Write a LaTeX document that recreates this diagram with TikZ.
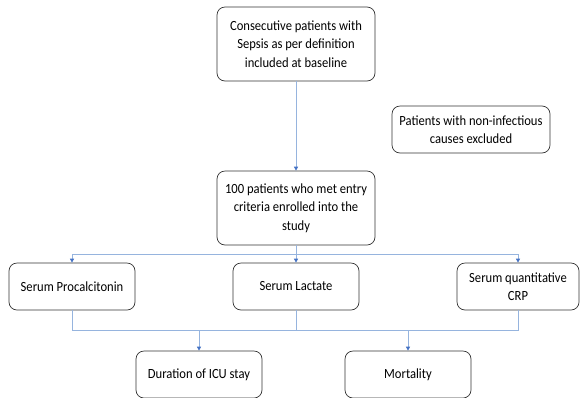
\documentclass[tikz,border=0pt]{standalone}
\usepackage{fontspec}
\setmainfont{Carlito}[FakeStretch=0.9]
\usepackage{tikz}
\usetikzlibrary{arrows.meta,positioning,calc}
\definecolor{linkBlue}{RGB}{150,180,222}
\definecolor{tipBlue}{RGB}{68,114,196}
\definecolor{boxGray}{RGB}{50,50,50}

\begin{document}
\begin{tikzpicture}[x=1pt,y=-1pt,
  stage/.style={rectangle,draw=boxGray,line width=0.7pt,rounded corners=8pt,
                minimum width=158pt,minimum height=74pt,inner sep=2pt,align=center,
                font=\fontsize{14}{18.5}\selectfont},
  marker/.style={stage,minimum width=126pt,minimum height=47pt},
  note/.style={stage,minimum height=47pt},
  link/.style={draw=linkBlue,line width=0.8pt},
  flow/.style={link,-{Triangle[length=4pt,width=4pt,color=tipBlue]}}
]
  \useasboundingbox (0,0) rectangle (580,397);
  \node[stage](base)  at (296,44)    {Consecutive patients with\\Sepsis as per definition\\included at baseline};
  \node[note](excl)   at (471,129.5) {Patients with non-infectious\\causes excluded};
  \node[stage](enrol) at (296,208)   {100 patients who met entry\\criteria enrolled into the\\study};
  \node[marker](pct)  at (72,286.5)  {Serum Procalcitonin};
  \node[marker](lac)  at (296,286.5) {Serum Lactate};
  \node[marker,minimum width=122pt](crp) at (518,286.5) {Serum quantitative\\CRP};
  \node[marker](icu)  at (199,374.5) {Duration of ICU stay};
  \node[marker](mort) at (408,374.5) {Mortality};
  \coordinate (split) at (296,254);
  \coordinate (merge) at (296,330);

  \draw[flow](base)--(enrol);
  \draw[link](enrol)--(split);
  \draw[link](split -| pct)--(split -| crp);
  \draw[flow](split -| pct)--(pct);
  \draw[flow](split)--(lac);
  \draw[flow](split -| crp)--(crp);
  \draw[link](pct)--(pct |- merge)--(crp |- merge)--(crp);
  \draw[link](lac)--(merge);
  \draw[flow](merge -| icu)--(icu);
  \draw[flow](merge -| mort)--(mort);
\end{tikzpicture}
\end{document}
